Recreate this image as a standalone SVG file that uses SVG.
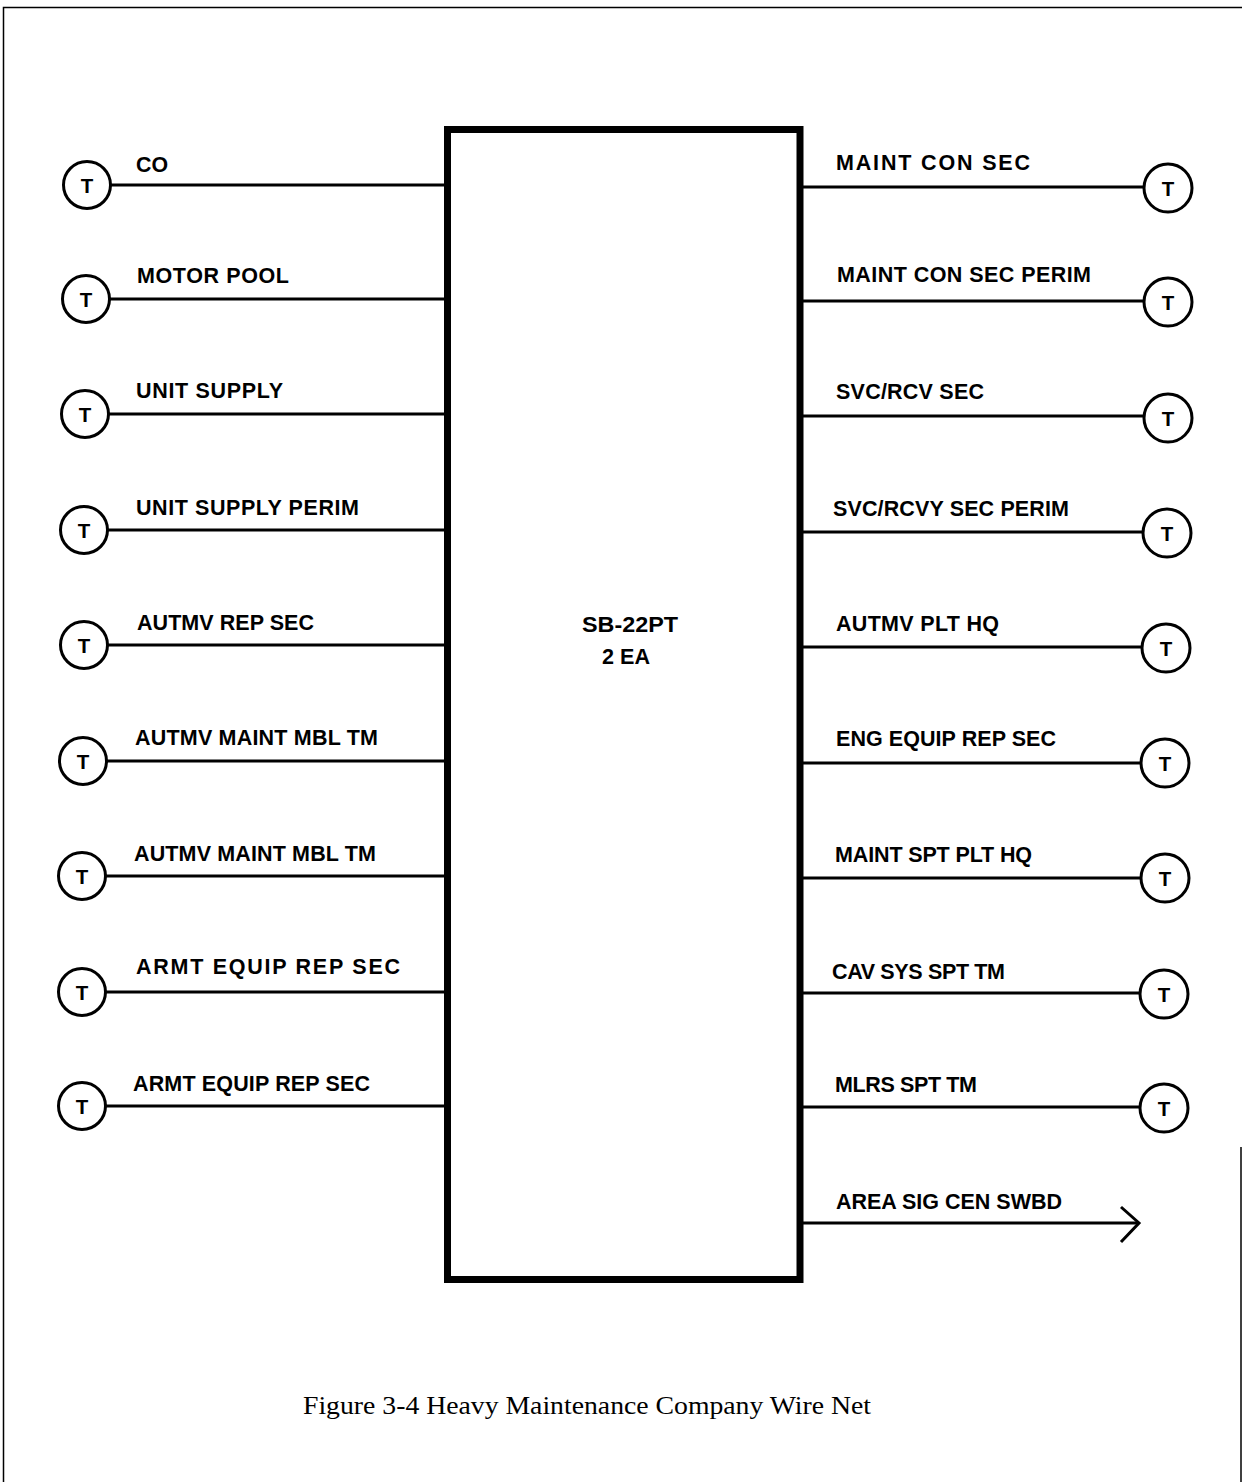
<svg xmlns="http://www.w3.org/2000/svg" width="1242" height="1482" viewBox="0 0 1242 1482">
<style>
.lbl{font-family:"Liberation Sans",Arial,sans-serif;font-weight:bold;font-size:21.5px;fill:#000}
.t{font-family:"Liberation Sans",Arial,sans-serif;font-weight:bold;font-size:20.5px;fill:#000;text-anchor:middle}
.cap{font-family:"Liberation Serif","Times New Roman",serif;font-size:26px;fill:#000}
.wire{stroke:#000;stroke-width:3;fill:none}
.term{stroke:#000;stroke-width:3;fill:#fff}
</style>
<rect width="1242" height="1482" fill="#fff"/>
<g id="border" fill="none" stroke="#000" stroke-width="1.5">
<path d="M3.5,1482 V7.5 H1242"/>
<path d="M1241,1147 V1482"/>
</g>
<g id="switchboard">
<rect x="447.5" y="129.5" width="352.5" height="1150" fill="#fff" stroke="#000" stroke-width="7"/>
<text class="lbl" x="582" y="632" textLength="96" lengthAdjust="spacingAndGlyphs">SB-22PT</text>
<text class="lbl" x="602" y="664" textLength="48" lengthAdjust="spacingAndGlyphs">2 EA</text>
</g>
<g id="connectors">
<line class="wire" x1="111" y1="185" x2="446" y2="185"/>
<line class="wire" x1="110" y1="299" x2="446" y2="299"/>
<line class="wire" x1="109" y1="414" x2="446" y2="414"/>
<line class="wire" x1="108" y1="530" x2="446" y2="530"/>
<line class="wire" x1="108" y1="645" x2="446" y2="645"/>
<line class="wire" x1="107" y1="761" x2="446" y2="761"/>
<line class="wire" x1="106" y1="876" x2="446" y2="876"/>
<line class="wire" x1="106" y1="992" x2="446" y2="992"/>
<line class="wire" x1="106" y1="1106" x2="446" y2="1106"/>
<line class="wire" x1="801" y1="187" x2="1144" y2="187"/>
<line class="wire" x1="801" y1="301" x2="1144" y2="301"/>
<line class="wire" x1="801" y1="416" x2="1144" y2="416"/>
<line class="wire" x1="801" y1="532" x2="1143" y2="532"/>
<line class="wire" x1="801" y1="647" x2="1142" y2="647"/>
<line class="wire" x1="801" y1="763" x2="1141" y2="763"/>
<line class="wire" x1="801" y1="878" x2="1141" y2="878"/>
<line class="wire" x1="801" y1="993" x2="1140" y2="993"/>
<line class="wire" x1="801" y1="1107" x2="1140" y2="1107"/>
<line class="wire" x1="801" y1="1223" x2="1139" y2="1223"/>
<path class="wire" d="M1121,1207 L1139,1223 L1121,1242" stroke-width="3.5"/>
</g>
<g id="left-terminals">
<g id="t-co"><circle class="term" cx="87" cy="185" r="23.5"/><text class="t" x="87" y="192.5">T</text><text class="lbl" x="136" y="172" textLength="32" lengthAdjust="spacingAndGlyphs">CO</text></g>
<g id="t-motor-pool"><circle class="term" cx="86" cy="299" r="23.5"/><text class="t" x="86" y="306.5">T</text><text class="lbl" x="137" y="283" textLength="152" lengthAdjust="spacing">MOTOR POOL</text></g>
<g id="t-unit-supply"><circle class="term" cx="85" cy="414" r="23.5"/><text class="t" x="85" y="421.5">T</text><text class="lbl" x="136" y="398" textLength="147" lengthAdjust="spacing">UNIT SUPPLY</text></g>
<g id="t-unit-supply-perim"><circle class="term" cx="84" cy="530" r="23.5"/><text class="t" x="84" y="537.5">T</text><text class="lbl" x="136" y="515" textLength="223" lengthAdjust="spacing">UNIT SUPPLY PERIM</text></g>
<g id="t-autmv-rep-sec"><circle class="term" cx="84" cy="645" r="23.5"/><text class="t" x="84" y="652.5">T</text><text class="lbl" x="137" y="630" textLength="177" lengthAdjust="spacing">AUTMV REP SEC</text></g>
<g id="t-autmv-maint-1"><circle class="term" cx="83" cy="761" r="23.5"/><text class="t" x="83" y="768.5">T</text><text class="lbl" x="135" y="745" textLength="243" lengthAdjust="spacing">AUTMV MAINT MBL TM</text></g>
<g id="t-autmv-maint-2"><circle class="term" cx="82" cy="876" r="23.5"/><text class="t" x="82" y="883.5">T</text><text class="lbl" x="134" y="861" textLength="242" lengthAdjust="spacing">AUTMV MAINT MBL TM</text></g>
<g id="t-armt-1"><circle class="term" cx="82" cy="992" r="23.5"/><text class="t" x="82" y="999.5">T</text><text class="lbl" x="136" y="974" textLength="264" lengthAdjust="spacing">ARMT EQUIP REP SEC</text></g>
<g id="t-armt-2"><circle class="term" cx="82" cy="1106" r="23.5"/><text class="t" x="82" y="1113.5">T</text><text class="lbl" x="133" y="1091" textLength="237" lengthAdjust="spacing">ARMT EQUIP REP SEC</text></g>
</g>
<g id="right-terminals">
<g id="t-maint-con-sec"><circle class="term" cx="1168" cy="188" r="24"/><text class="t" x="1168" y="195.5">T</text><text class="lbl" x="836" y="170" textLength="194" lengthAdjust="spacing">MAINT CON SEC</text></g>
<g id="t-maint-con-sec-perim"><circle class="term" cx="1168" cy="302" r="24"/><text class="t" x="1168" y="309.5">T</text><text class="lbl" x="837" y="282" textLength="254" lengthAdjust="spacing">MAINT CON SEC PERIM</text></g>
<g id="t-svc-rcv-sec"><circle class="term" cx="1168" cy="418" r="24"/><text class="t" x="1168" y="425.5">T</text><text class="lbl" x="836" y="399" textLength="148" lengthAdjust="spacing">SVC/RCV SEC</text></g>
<g id="t-svc-rcvy-sec-perim"><circle class="term" cx="1167" cy="533" r="24"/><text class="t" x="1167" y="540.5">T</text><text class="lbl" x="833" y="516" textLength="236" lengthAdjust="spacing">SVC/RCVY SEC PERIM</text></g>
<g id="t-autmv-plt-hq"><circle class="term" cx="1166" cy="648" r="24"/><text class="t" x="1166" y="655.5">T</text><text class="lbl" x="836" y="631" textLength="163" lengthAdjust="spacing">AUTMV PLT HQ</text></g>
<g id="t-eng-equip"><circle class="term" cx="1165" cy="763" r="24"/><text class="t" x="1165" y="770.5">T</text><text class="lbl" x="836" y="746" textLength="220" lengthAdjust="spacing">ENG EQUIP REP SEC</text></g>
<g id="t-maint-spt"><circle class="term" cx="1165" cy="878" r="24"/><text class="t" x="1165" y="885.5">T</text><text class="lbl" x="835" y="862" textLength="197" lengthAdjust="spacing">MAINT SPT PLT HQ</text></g>
<g id="t-cav-sys"><circle class="term" cx="1164" cy="994" r="24"/><text class="t" x="1164" y="1001.5">T</text><text class="lbl" x="832" y="979" textLength="173" lengthAdjust="spacing">CAV SYS SPT TM</text></g>
<g id="t-mlrs"><circle class="term" cx="1164" cy="1108" r="24"/><text class="t" x="1164" y="1115.5">T</text><text class="lbl" x="835" y="1092" textLength="142" lengthAdjust="spacing">MLRS SPT TM</text></g>
<g id="area-sig"><text class="lbl" x="836" y="1209" textLength="226" lengthAdjust="spacing">AREA SIG CEN SWBD</text></g>
</g>
<g id="caption"><text class="cap" x="303" y="1414" textLength="568" lengthAdjust="spacingAndGlyphs">Figure 3-4 Heavy Maintenance Company Wire Net</text></g>
</svg>
